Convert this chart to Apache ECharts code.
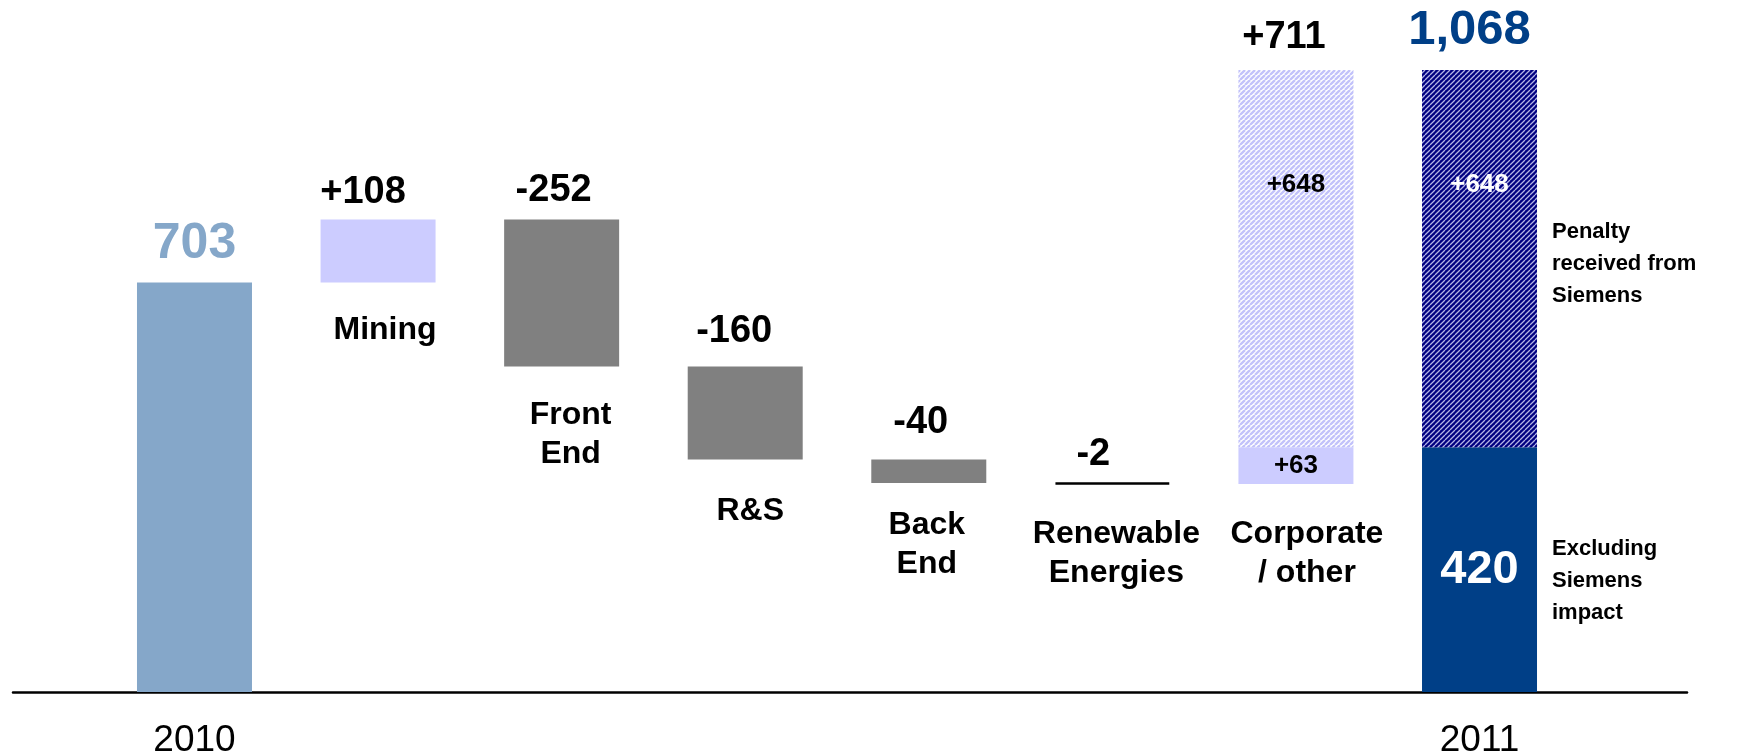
<!DOCTYPE html>
<html>
<head>
<meta charset="utf-8">
<script src="https://cdn.jsdelivr.net/npm/echarts@6/dist/echarts.min.js"></script>
<style>
  html, body { margin: 0; padding: 0; background: #ffffff; }
  #chart { width: 1737px; height: 753px; }
</style>
</head>
<body>
<div id="chart"></div>
<script>
// Bridge from the 2010 figure to the 2011 figure
const categories = ['2010', 'Mining', 'Front End', 'R&S', 'Back End', 'Renewable Energies', 'Corporate / other', '2011'];
const segmentNames = ['', 'Mining', 'Front\nEnd', 'R&S', 'Back\nEnd', 'Renewable\nEnergies', 'Corporate\n/ other', ''];
const yearLabels = ['2010', '', '', '', '', '', '', '2011'];
const opening2010 = 703;
const segmentDeltas = [108, -252, -160, -40, -2];   // Mining .. Renewable Energies
const corporateOther = 63;
const siemensPenalty = 648;
const closingExclSiemens = 420;
const notePenalty = 'Penalty\nreceived from\nSiemens';
const noteExcluding = 'Excluding\nSiemens\nimpact';

const FONT = '"Liberation Sans", Arial, Helvetica, sans-serif';

// Fine placement of the hand-set text boxes (px)
const deltaLabelDistance = [8.5, 10.5, 16, 18.5, 9];
const deltaLabelShift = [-15, -8, -11, -8, -19];
const nameLabelDistance = [0, 28, 29, 32, 23, 31, 31, 0];
const nameLabelShift = [0, 7, 9, 5, -2, 4, 11, 0];

// Build the invisible base and visible part of each floating bar
const baseVals = [0];
const stepVals = [opening2010];
let level = opening2010;
segmentDeltas.forEach(d => {
  if (d >= 0) { baseVals.push(level); stepVals.push(d); level += d; }
  else { level += d; baseVals.push(level); stepVals.push(-d); }
});
baseVals.push(level);
stepVals.push(corporateOther);
baseVals.push(0);
stepVals.push(closingExclSiemens);
const corporateTotal = corporateOther + siemensPenalty;
const closing2011 = closingExclSiemens + siemensPenalty;

function hatch(bg, fg, lw) {
  const T = 5;
  const c = document.createElement('canvas');
  c.width = T; c.height = T;
  const g = c.getContext('2d');
  g.fillStyle = bg; g.fillRect(0, 0, T, T);
  g.strokeStyle = fg; g.lineWidth = lw;
  g.beginPath();
  for (const x0 of [-T, 0, T]) { g.moveTo(x0, T); g.lineTo(x0 + T, 0); }
  g.stroke();
  return { image: c, repeat: 'repeat' };
}
const lightHatch = hatch('#ffffff', '#c2c2fa', 2.3);
const darkHatch = hatch('#000080', '#b4b4e6', 1.3);

const stepColors = ['#85A7C9', '#CCCCFF', '#808080', '#808080', '#808080', '#000000', '#CCCCFF', '#003F87'];

const fmtDelta = v => (v > 0 ? '+' : '') + v;
const fmtThousands = v => v.toLocaleString('en-US');

const stepData = stepVals.map((v, i) => {
  const item = { value: v, itemStyle: { color: stepColors[i] } };
  if (i === 0) {
    item.label = { show: true, position: 'top', distance: 13, formatter: String(v), color: '#85A7C9', fontSize: 50 };
  } else if (i <= segmentDeltas.length) {
    item.label = { show: true, position: 'top', distance: deltaLabelDistance[i - 1], offset: [deltaLabelShift[i - 1], 0],
      formatter: fmtDelta(segmentDeltas[i - 1]), color: '#000', fontSize: 38 };
    if (i === segmentDeltas.length) { item.itemStyle.borderColor = '#000'; item.itemStyle.borderWidth = 2.5; }
  } else if (i === 6) {
    item.label = { show: true, position: 'inside', formatter: fmtDelta(v), color: '#000', fontSize: 26 };
  } else {
    item.label = { show: true, position: 'inside', formatter: String(v), color: '#fff', fontSize: 47 };
  }
  return item;
});

const baseData = baseVals.map((v, i) => ({
  value: v,
  label: { distance: nameLabelDistance[i], offset: [nameLabelShift[i], 0] }
}));

const penaltyData = categories.map((c, i) => {
  if (i === 6) return { value: siemensPenalty, itemStyle: { color: lightHatch },
    label: { show: true, position: ['50%', 115], align: 'center', verticalAlign: 'middle', formatter: fmtDelta(siemensPenalty), color: '#000', fontSize: 26 } };
  if (i === 7) return { value: siemensPenalty, itemStyle: { color: darkHatch },
    label: { show: true, position: ['50%', 115], align: 'center', verticalAlign: 'middle', formatter: fmtDelta(siemensPenalty), color: '#fff', fontSize: 26 } };
  return '-';
});

const chart = echarts.init(document.getElementById('chart'), null, { renderer: 'canvas' });
chart.setOption({
  animation: false,
  backgroundColor: '#ffffff',
  textStyle: { fontFamily: FONT, fontWeight: 'bold' },
  grid: [
    { left: 13, right: 50, top: 51.25, bottom: 61, containLabel: false, outerBoundsMode: 'none' },
    { left: 102.7, right: 165.7, top: 51.25, bottom: 61, containLabel: false, outerBoundsMode: 'none' }
  ],
  xAxis: [
    { gridIndex: 0, type: 'category', data: [''],
      axisLine: { show: true, lineStyle: { color: '#000', width: 2.5 } },
      axisTick: { show: false }, axisLabel: { show: false }, splitLine: { show: false } },
    { gridIndex: 1, type: 'category', data: categories,
      axisLine: { show: false }, axisTick: { show: false }, splitLine: { show: false },
      axisLabel: { interval: 0, margin: 30, fontSize: 37, color: '#000', fontWeight: 'normal', fontFamily: FONT,
        formatter: (v, i) => yearLabels[i] } }
  ],
  yAxis: [
    { gridIndex: 0, type: 'value', min: 0, max: 1100, show: false },
    { gridIndex: 1, type: 'value', min: 0, max: 1100, show: false }
  ],
  series: [
    { name: 'base', type: 'bar', xAxisIndex: 1, yAxisIndex: 1, stack: 'bridge', barWidth: 115,
      itemStyle: { color: 'transparent' }, emphasis: { disabled: true }, silent: true,
      label: { show: true, position: 'insideTop', color: '#000', fontSize: 32, lineHeight: 39,
        fontWeight: 'bold', fontFamily: FONT, formatter: p => segmentNames[p.dataIndex] },
      data: baseData },
    { name: 'step', type: 'bar', xAxisIndex: 1, yAxisIndex: 1, stack: 'bridge', barWidth: 115,
      emphasis: { disabled: true },
      label: { fontWeight: 'bold', fontFamily: FONT },
      data: stepData },
    { name: 'penalty', type: 'bar', xAxisIndex: 1, yAxisIndex: 1, stack: 'bridge', barWidth: 115,
      emphasis: { disabled: true },
      label: { fontWeight: 'bold', fontFamily: FONT },
      data: penaltyData },
    { name: 'totals', type: 'scatter', xAxisIndex: 1, yAxisIndex: 1, symbolSize: 1, z: 5,
      itemStyle: { color: 'transparent', opacity: 1 }, emphasis: { disabled: true }, silent: true,
      data: [
        { value: [6, baseVals[6] + corporateTotal],
          label: { show: true, position: 'top', distance: 13, offset: [-12, 0], formatter: fmtDelta(corporateTotal),
            color: '#000', fontSize: 38, fontWeight: 'bold', fontFamily: FONT } },
        { value: [7, closing2011],
          label: { show: true, position: 'top', distance: 14.5, offset: [-10, 0], formatter: fmtThousands(closing2011),
            color: '#003F87', fontSize: 49, fontWeight: 'bold', fontFamily: FONT } }
      ] },
    { name: 'notes', type: 'scatter', xAxisIndex: 1, yAxisIndex: 1, symbolSize: 1, z: 5,
      itemStyle: { color: 'transparent', opacity: 1 }, emphasis: { disabled: true }, silent: true,
      label: { show: true, position: 'right', distance: 72, align: 'left', color: '#000', fontSize: 22, lineHeight: 32,
        fontWeight: 'bold', fontFamily: FONT },
      data: [
        { value: [7, closingExclSiemens + siemensPenalty / 2], label: { formatter: notePenalty, offset: [0, 5] } },
        { value: [7, closingExclSiemens / 2], label: { formatter: noteExcluding, offset: [0, 11] } }
      ] }
  ]
});
</script>
</body>
</html>
